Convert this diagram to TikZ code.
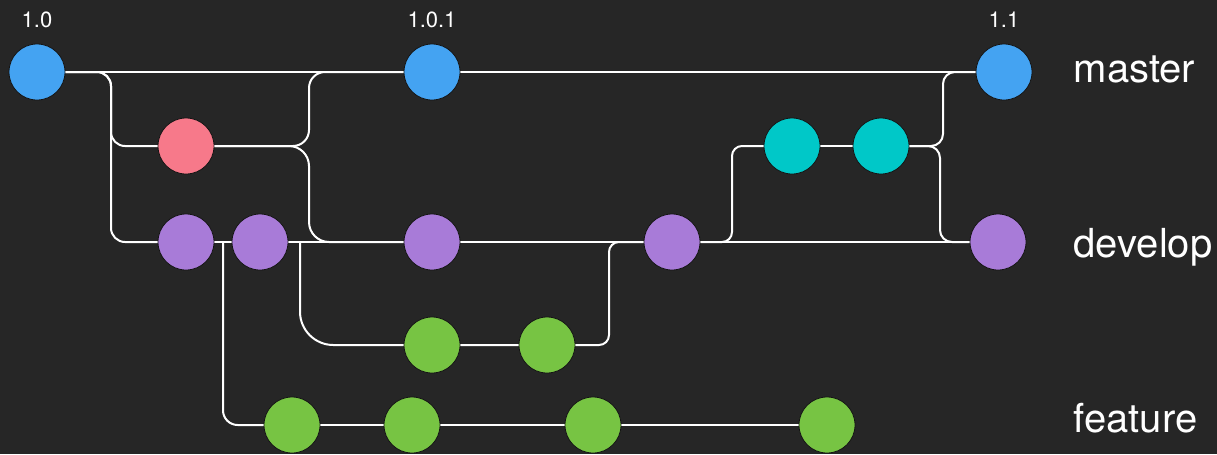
\documentclass[tikz,border=0pt]{standalone}
\usepackage{fontspec}
\setmainfont{TeX Gyre Heros}
\pgfdeclarelayer{bg}
\pgfsetlayers{bg,main}
\definecolor{canvas}{HTML}{262626}
\definecolor{cmaster}{HTML}{44A3F2}
\definecolor{chotfix}{HTML}{F7798A}
\definecolor{cdevelop}{HTML}{A87BD8}
\definecolor{crelease}{HTML}{00C8C8}
\definecolor{cfeature}{HTML}{77C443}
\definecolor{rim}{HTML}{151515}
\tikzset{
  commit/.style={circle, minimum size=42pt, inner sep=0pt, draw=rim, line width=0.6pt},
  link/.style={draw=white, line width=1.5pt},
  tag/.style={text=white, font=\fontsize{16.5pt}{18pt}\selectfont, anchor=base},
  branch/.style={text=white, font=\fontsize{30pt}{34pt}\selectfont, anchor=base west},
}
\begin{document}
\begin{tikzpicture}[x=0.75pt, y=-0.75pt]
\useasboundingbox (0,0) rectangle (1217,454);
\begin{pgfonlayer}{bg}
  \fill[canvas] (0,0) rectangle (1217,454);
\end{pgfonlayer}

% commits
\node[commit, fill=cmaster] (v10)  at (37,72) {};
\node[commit, fill=cmaster] (v101) at (432,72) {};
\node[commit, fill=cmaster] (v11)  at (1004,72) {};
\node[commit, fill=chotfix] (hf) at (186,146) {};
\node[commit, fill=crelease] (r1) at (792,146) {};
\node[commit, fill=crelease] (r2) at (881,146) {};
\node[commit, fill=cdevelop] (d1) at (186,242) {};
\node[commit, fill=cdevelop] (d2) at (260,242) {};
\node[commit, fill=cdevelop] (d3) at (432,242) {};
\node[commit, fill=cdevelop] (d4) at (672,242) {};
\node[commit, fill=cdevelop] (d5) at (998,242) {};
\node[commit, fill=cfeature] (g1) at (432,345) {};
\node[commit, fill=cfeature] (g2) at (547,345) {};
\node[commit, fill=cfeature] (f1) at (292,425) {};
\node[commit, fill=cfeature] (f2) at (412,425) {};
\node[commit, fill=cfeature] (f3) at (593,425) {};
\node[commit, fill=cfeature] (f4) at (827,425) {};

% branch points on the develop line
\coordinate (b1) at (223,242);
\coordinate (b2) at (300,242);

% tags and branch names
\node[tag] (t10)  at (37,27) {1.0};
\node[tag] (t101) at (432,27) {1.0.1};
\node[tag] (t11)  at (1004,27) {1.1};
\node[branch] (lmaster)  at (1069,82) {master};
\node[branch] (ldevelop) at (1069,257) {develop};
\node[branch] (lfeature) at (1069,432) {feature};

% history lines, behind the commits
\begin{pgfonlayer}{bg}
  \draw[link] (v10.center) -- (v101.center) -- (v11.center);
  \draw[link, rounded corners=10.5pt] (v10.center) -- (111,72) |- (hf.center);
  \draw[link, rounded corners=10.5pt] (v10.center) -- (111,72) |- (d1.center);
  \draw[link, rounded corners=12pt] (hf.center) -| (309,72) -- (v101.center);
  \draw[link, rounded corners=15pt] (hf.center) -| (309,242) -- (d3.center);
  \draw[link] (d1.center) -- (d2.center) -- (d3.center) -- (d4.center) -- (d5.center);
  \draw[link, rounded corners=11pt] (b1) |- (f1.center);
  \draw[link] (f1.center) -- (f2.center) -- (f3.center) -- (f4.center);
  \draw[link, rounded corners=25pt] (b2) |- (g1.center);
  \draw[link, rounded corners=7.5pt] (g1.center) -- (g2.center) -| (609,242) -- (d4.center);
  \draw[link, rounded corners=7.5pt] (d4.center) -- (732,242) |- (r1.center);
  \draw[link] (r1.center) -- (r2.center);
  \draw[link, rounded corners=9pt] (r2.center) -| (943,72) -- (v11.center);
  \draw[link, rounded corners=9pt] (r2.center) -| (940,242) -- (d5.center);
\end{pgfonlayer}
\end{tikzpicture}
\end{document}
